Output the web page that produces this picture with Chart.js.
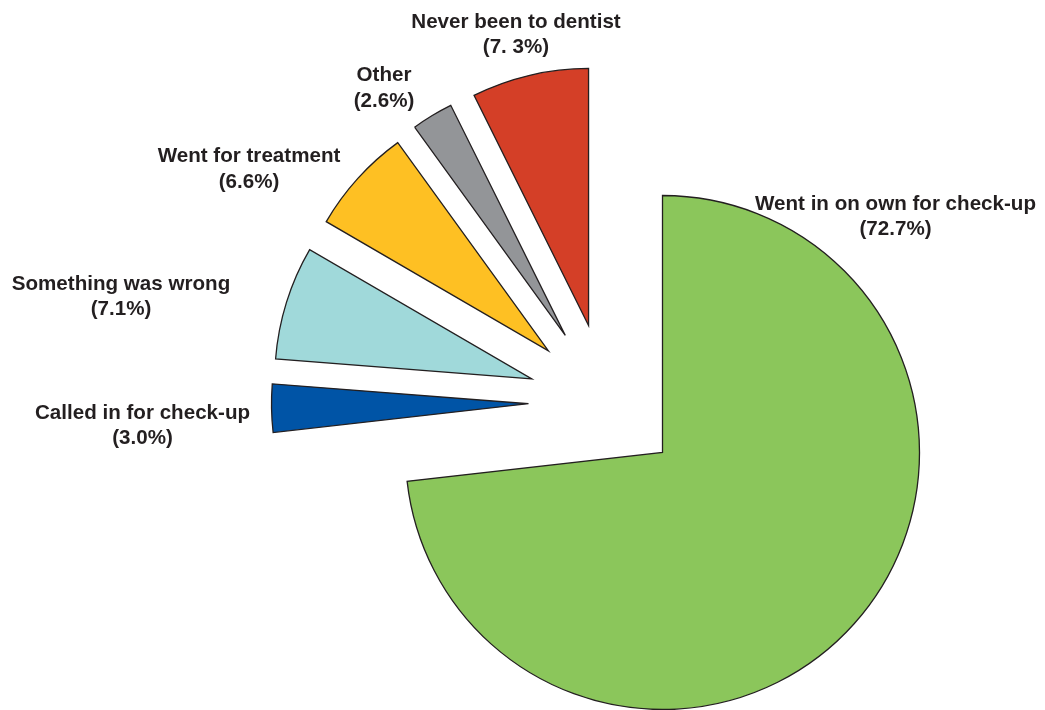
<!DOCTYPE html>
<html>
<head>
<meta charset="utf-8">
<script src="https://cdn.jsdelivr.net/npm/chart.js@4"></script>
<style>
  html, body { margin: 0; padding: 0; background: #fff; }
  #wrap { width: 1045px; height: 710px; position: relative; }
</style>
</head>
<body>
<div id="wrap"><canvas id="dentist-chart"></canvas></div>
<script>
// data, clockwise from 12 o'clock
const categories = ['Went in on own for check-up', 'Called in for check-up', 'Something was wrong', 'Went for treatment', 'Other', 'Never been to dentist'];
const shares = [72.7, 3.0, 7.1, 6.6, 2.6, 7.3];
const shareLabels = ['(72.7%)', '(3.0%)', '(7.1%)', '(6.6%)', '(2.6%)', '(7. 3%)'];

// styling
const sliceColors = ['#8bc65b', '#0054a6', '#a0d9da', '#fec023', '#939598', '#d43f27'];
const explodeDist = [0, 142.6, 150, 152.8, 152.2, 147];       // px
const explodeAngle = [0, 290, 299.4, 311.7, 320.3, 329.8];     // deg, clockwise from top
const labelAt = [[233, -243], [-520, -34], [-541.5, -163], [-413.5, -290.5], [-278.5, -371.5], [-146.5, -425]];
const textColor = '#231f20';
const labelFont = 'bold 20.6px "Liberation Sans", Arial, sans-serif';

// push the small slices out from the centre
const explodePlugin = {
    id: 'explode',
    afterDatasetUpdate: function (chart, args) {
        args.meta.data.forEach(function (arc, i) {
            const a = explodeAngle[i] * Math.PI / 180;
            arc.x += explodeDist[i] * Math.sin(a);
            arc.y -= explodeDist[i] * Math.cos(a);
        });
    }
};

const labelPlugin = {
    id: 'sliceLabels',
    afterDatasetsDraw: function (chart) {
        const ctx = chart.ctx;
        const area = chart.chartArea;
        const cx = (area.left + area.right) / 2;
        const cy = (area.top + area.bottom) / 2;
        ctx.save();
        ctx.font = labelFont;
        ctx.fillStyle = textColor;
        ctx.textAlign = 'center';
        ctx.textBaseline = 'alphabetic';
        categories.forEach(function (name, i) {
            const x = cx + labelAt[i][0];
            const y = cy + labelAt[i][1];
            ctx.fillText(name, x, y);
            ctx.fillText(shareLabels[i], x, y + 25.5);
        });
        ctx.restore();
    }
};

new Chart(document.getElementById('dentist-chart'), {
    type: 'pie',
    data: {
        labels: categories,
        datasets: [{
            data: shares,
            backgroundColor: sliceColors,
            borderColor: textColor,
            borderWidth: 1.3,
            borderJoinStyle: 'miter'
        }]
    },
    options: {
        responsive: true,
        maintainAspectRatio: false,
        animation: false,
        events: [],
        radius: 257,
        layout: {
            padding: { left: 402, right: 122, top: 195, bottom: 0 }
        },
        plugins: {
            legend: { display: false },
            tooltip: { enabled: false }
        }
    },
    plugins: [explodePlugin, labelPlugin]
});
</script>
</body>
</html>
